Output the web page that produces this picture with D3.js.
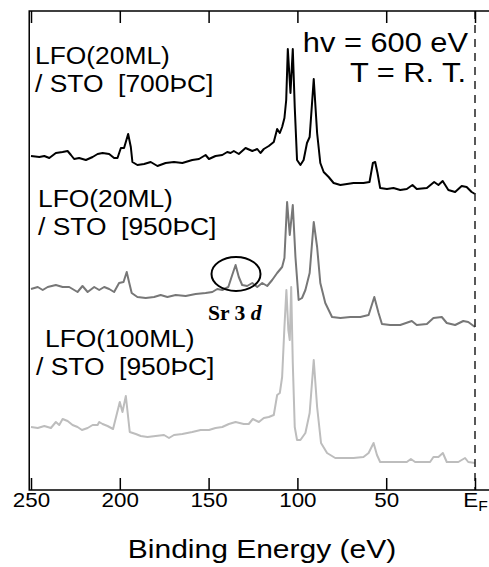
<!DOCTYPE html>
<meta charset="utf-8">
<style>
body { margin: 0; background: #fff; }
text { font-family: "Liberation Sans", Arial, sans-serif; fill: #000; white-space: pre; }
.tick line { stroke: #000; stroke-width: 1.5px; }
.spec { fill: none; stroke-width: 2px; stroke-linejoin: round; }
</style>
<svg width="489" height="567"></svg>
<script src="https://d3js.org/d3.v7.min.js"></script>
<script>

// binding energy (eV), intensity (arb. units, offsets included)
var spec20ml700 = [
  [250.0,334],[245.3,333],[242.5,334],[239.7,332],[236.0,337],[232.2,338],[229.4,339],[227.5,335],
  [225.7,331],[222.9,332],[219.1,330],[215.3,333],[212.5,336],[209.7,337],[206.0,336],[203.2,332],
  [201.3,332],[199.4,342],[197.6,342],[195.3,356],[193.8,343],[192.9,328],[190.1,325],[186.3,326],
  [182.6,328],[178.8,324],[174.2,327],[169.5,328],[164.8,327],[159.2,330],[155.4,331],[151.7,335],
  [149.8,331],[146.1,334],[142.3,335],[139.5,338],[137.6,337],[135.8,339],[133.0,336],[129.2,342],
  [125.4,339],[122.6,341],[120.8,337],[118.9,341],[116.1,344],[113.3,348],[111.4,361],[109.9,357],
  [108.6,363],[107.3,372],[106.3,390],[105.4,441],[103.9,397],[102.6,441],[101.5,383],[100.2,330],
  [98.3,325],[96.5,330],[94.6,347],[93.1,353],[90.8,411],[88.9,357],[87.1,327],[85.2,318],
  [82.4,313],[79.6,307],[75.8,305],[72.1,306],[68.4,307],[62.8,307],[59.4,308],[57.5,327],
  [56.2,328],[54.9,317],[53.4,302],[49.6,301],[45.9,302],[42.1,300],[38.4,301],[35.2,305],
  [32.8,301],[27.1,302],[23.0,308],[20.6,305],[18.2,309],[15.0,300],[11.2,298],[7.5,304],
  [4.7,303],[1.9,298],[0,296]
];

var spec20ml950 = [
  [250.0,201],[246.2,203],[243.4,200],[240.6,203],[236.0,205],[232.2,203],[228.5,203],[223.8,198],
  [221.0,204],[218.1,198],[214.4,203],[211.6,200],[208.8,203],[206.0,201],[203.2,198],[200.4,207],
  [197.9,208],[196.1,218],[194.8,208],[193.3,197],[190.1,193],[185.4,192],[180.7,193],[177.0,195],
  [173.2,193],[168.5,195],[162.9,194],[157.3,196],[151.7,197],[147.9,198],[145.1,201],[142.3,200],
  [138.9,203],[136.7,215],[134.8,225],[133.0,213],[131.1,205],[128.3,204],[125.4,207],[122.6,203],
  [119.8,207],[117.0,204],[114.2,210],[111.4,217],[108.6,223],[107.3,232],[105.8,288],[104.3,255],
  [102.6,285],[101.1,233],[99.3,190],[97.4,192],[95.5,200],[93.1,217],[90.8,268],[88.9,243],
  [87.1,207],[84.3,187],[80.5,173],[75.8,172],[70.2,173],[64.6,173],[59.9,175],[56.7,193],
  [54.3,177],[52.4,166],[47.8,165],[42.1,165],[35.6,169],[32.8,165],[27.1,166],[23.4,172],
  [18.7,173],[15.9,167],[11.2,165],[6.6,169],[3.8,168],[0,163]
];

var spec100ml950 = [
  [250.0,63],[246.2,62],[242.5,64],[238.8,62],[236.0,68],[234.1,65],[232.2,71],[229.4,69],
  [226.6,65],[223.8,63],[221.3,60],[218.1,62],[215.3,65],[212.5,65],[211.6,68],[209.7,66],
  [206.9,64],[203.8,61],[200.0,88],[198.5,78],[196.6,94],[194.4,58],[191.0,56],[188.2,54],
  [184.4,53],[179.8,54],[175.1,55],[172.3,52],[169.5,55],[164.8,56],[159.2,58],[154.5,60],
  [149.8,60],[146.1,62],[142.3,63],[138.6,66],[134.8,68],[130.2,66],[127.4,66],[125.1,71],
  [121.7,68],[118.9,72],[116.1,73],[113.3,75],[111.4,95],[109.9,97],[108.6,113],[107.3,163],
  [106.2,200],[105.1,160],[104.3,150],[103.5,203],[102.6,127],[101.5,63],[100.2,50],[98.3,50],
  [95.5,57],[93.1,77],[90.8,130],[88.9,83],[86.7,47],[83.3,37],[78.7,32],[74.0,32],
  [68.4,32],[62.8,33],[59.9,37],[57.1,47],[55.2,35],[53.4,28],[45.9,28],[38.4,28],
  [36.1,31],[33.7,28],[25.3,28],[23.4,33],[20.6,33],[18.1,37],[15.9,28],[9.4,28],
  [5.6,32],[3.8,28],[0,27]
];

var series = [spec20ml700, spec20ml950, spec100ml950];
var seriesColors = ["#000000", "#777777", "#bdbdbd"];
var sampleLabels = [
  ["LFO(20ML)", "/ STO  [700ÞC]"],
  ["LFO(20ML)", "/ STO  [950ÞC]"],
  ["LFO(100ML)", "/ STO  [950ÞC]"]
];
var tickValues = [250, 200, 150, 100, 50, 0];

var svg = d3.select("svg");

var x = d3.scaleLinear().domain([250, 0]).range([31, 475]);
var y = d3.scaleLinear().domain([0, 479]).range([490, 11]);

// text in the original is a bit wide, so stretch it horizontally
function label(txt, tx, ty, size, anchor, sx) {
  return svg.append("text")
      .attr("transform", "translate(" + tx + "," + ty + ") scale(" + (sx || 1.1) + ",1)")
      .attr("text-anchor", anchor || "start")
      .style("font-size", size + "px")
      .text(txt);
}

var line = d3.line()
    .x(function(d) { return x(d[0]); })
    .y(function(d) { return y(d[1]); });

svg.selectAll("path.spec")
    .data(series)
  .enter().append("path")
    .attr("class", "spec")
    .attr("stroke", function(d, i) { return seriesColors[i]; })
    .attr("d", line);

// E_F marker
svg.append("line")
    .attr("x1", x(0)).attr("x2", x(0))
    .attr("y1", y(479)).attr("y2", y(0))
    .attr("stroke", "#222")
    .attr("stroke-width", 1.5)
    .attr("stroke-dasharray", "8,6");

// frame (runs off the right edge)
svg.append("path")
    .attr("d", "M" + x(-12) + "," + y(479) + "H" + x(251) + "V" + y(0) + "H" + x(-12))
    .attr("fill", "none")
    .attr("stroke", "#000")
    .attr("stroke-width", 1.5);

var xAxis = svg.append("g")
    .attr("transform", "translate(0," + y(0) + ")")
    .call(d3.axisBottom(x)
        .tickValues(tickValues)
        .tickSizeInner(-12)
        .tickSizeOuter(0)
        .tickPadding(3)
        .tickFormat(function(d) { return d === 0 ? "E" : d; }));
xAxis.select(".domain").remove();
xAxis.selectAll("text")
    .attr("fill", "#000")
    .attr("transform", "scale(1.12,1)")
    .style("font-size", "20px")
    .style("font-family", "'Liberation Sans', Arial, sans-serif");
xAxis.selectAll(".tick").filter(function(d) { return d === 0; }).select("text")
    .append("tspan")
    .attr("dy", "0.3em")
    .style("font-size", "14px")
    .text("F");

var topAxis = svg.append("g")
    .attr("transform", "translate(0," + y(479) + ")")
    .call(d3.axisTop(x)
        .tickValues(tickValues)
        .tickSizeInner(-12)
        .tickSizeOuter(0)
        .tickFormat(""));
topAxis.select(".domain").remove();

label("Binding Energy (eV)", 262, 558, 25, "middle", 1.2);

// sample labels
var labelPos = [[35, 64], [38, 207], [36, 347]];
sampleLabels.forEach(function(lines, i) {
  label(lines[0], labelPos[i][0] + (i === 2 ? 9 : 0), labelPos[i][1], 24);
  label(lines[1], labelPos[i][0], labelPos[i][1] + 28, 24);
});

label("hv = 600 eV", 468, 52, 28, "end");
label("T = R. T.", 466, 82, 28, "end");

// Sr 3d marker
svg.append("ellipse")
    .attr("cx", 236).attr("cy", 274)
    .attr("rx", 24.5).attr("ry", 17)
    .attr("fill", "none")
    .attr("stroke", "#000")
    .attr("stroke-width", 2);

var sr = svg.append("text")
    .attr("transform", "translate(208,320) scale(1.08,1)")
    .style("font-family", "'Liberation Serif', 'Times New Roman', serif")
    .style("font-weight", "bold")
    .style("font-size", "20px");
sr.append("tspan").text("Sr 3 ");
sr.append("tspan").style("font-style", "italic").text("d");

</script>
